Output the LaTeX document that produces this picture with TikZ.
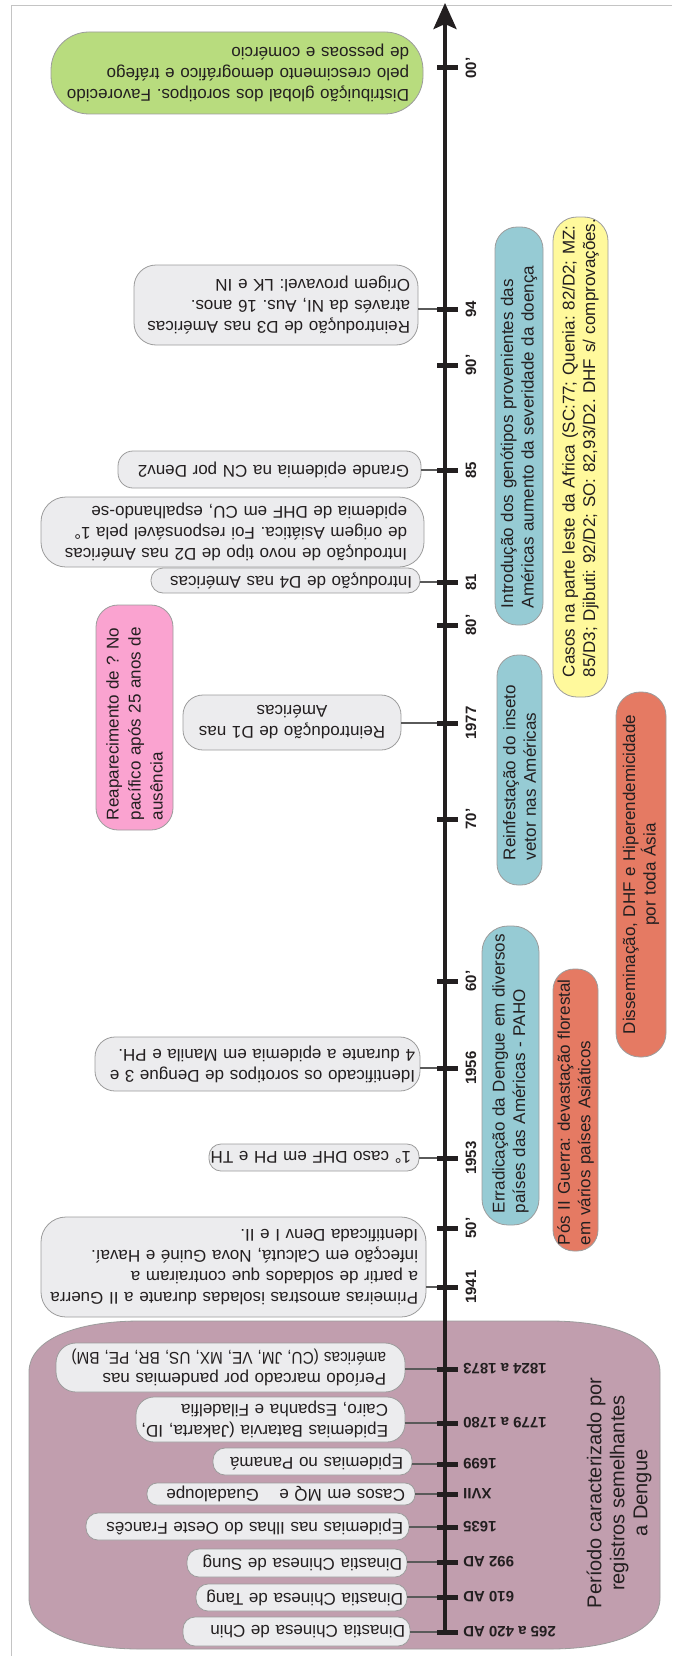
\documentclass[tikz,border=0pt]{standalone}
\usepackage{fontspec}
\usepackage{graphicx}
\setmainfont{Liberation Sans}
\usetikzlibrary{arrows.meta}
\frenchspacing
\definecolor{gfill}{HTML}{ECECEE}
\definecolor{gline}{HTML}{9C9C9C}
\definecolor{ink}{HTML}{231F20}
\definecolor{greenbox}{HTML}{B8DC7E}
\definecolor{bluebox}{HTML}{96CBD4}
\definecolor{redbox}{HTML}{E57A63}
\definecolor{yellowbox}{HTML}{FFF99C}
\definecolor{pinkbox}{HTML}{FAA3D0}
\definecolor{mauve}{HTML}{C19EAE}
\definecolor{frameline}{HTML}{C4C4C4}
\definecolor{connline}{HTML}{5A5A5A}
\newcommand\oneline[1]{\mbox{#1}}
\newcommand\narrowline[1]{\scalebox{0.9}[1]{#1}}
\tikzset{
 gbox/.style={draw=gline, fill=gfill, line width=0.8pt, rotate=180, align=left, inner ysep=0pt, font=\fontsize{17}{21}\selectfont\frenchspacing, text=ink},
 cbox/.style={draw=gline, line width=0.8pt, rotate=90, align=left, inner ysep=0pt, font=\fontsize{17}{20.5}\selectfont\frenchspacing, text=ink},
 conn/.style={draw=connline, line width=1.1pt},
 axisline/.style={draw=ink, line width=4pt, -{Stealth[length=26pt,width=23pt,inset=5pt]}},
 tickmark/.style={draw=ink, line width=5pt},
 uplabel/.style={rotate=90, font=\fontsize{15}{18}\selectfont\bfseries, text=ink, inner sep=0pt},
 lowlabel/.style={rotate=180, anchor=east, font=\fontsize{15}{18}\selectfont\bfseries, text=ink, inner sep=0pt},
}
\begin{document}
\begin{tikzpicture}[x=1pt,y=-1pt]
\useasboundingbox (0,0) rectangle (672,1656);
\fill[white] (0,0) rectangle (672,1656);
\draw[frameline, line width=1pt] (11,1656) -- (11,6) -- (672,6);

% background period region
\draw[draw=gline, fill=mauve, line width=0.8pt] (140,1321) -- (550,1321) .. controls (615,1321) and (660,1340) .. (660,1372) -- (660,1598) .. controls (660,1630) and (615,1649) .. (550,1649) -- (140,1649) .. controls (75,1649) and (29,1630) .. (29,1598) -- (29,1372) .. controls (29,1340) and (75,1321) .. (140,1321) -- cycle;
\node[rotate=90, align=center, font=\fontsize{20}{23}\selectfont, text=ink] (period) at (619,1493) {Período caracterizado por\\registros semelhantes\\a Dengue};

% tick coordinates
\coordinate (t00) at (445,68);
\coordinate (t94) at (445,309);
\coordinate (t90) at (445,365);
\coordinate (t85) at (445,470);
\coordinate (t81) at (445,582);
\coordinate (t80) at (445,625);
\coordinate (t1977) at (445,723);
\coordinate (t70) at (445,819);
\coordinate (t60) at (445,981);
\coordinate (t1956) at (445,1068);
\coordinate (t1953) at (445,1158);
\coordinate (t50) at (445,1228);
\coordinate (t1941) at (445,1287);
\coordinate (t1824) at (445,1369);
\coordinate (t1779) at (445,1423);
\coordinate (t1699) at (445,1464);
\coordinate (tXVII) at (445,1494);
\coordinate (t1635) at (445,1527);
\coordinate (t992) at (445,1562);
\coordinate (t610) at (445,1597);
\coordinate (t265) at (445,1632);
\coordinate (top) at (445,3);

% gray event boxes
\node[gbox, fill=greenbox, rounded corners=38pt, minimum width=372pt, minimum height=82pt, text width=344pt, inner xsep=14pt] (gG) at (237,73) {\oneline{Distribuição global dos sorotipos. Favorecido}\\\oneline{pelo crescimento demográfico e tráfego}\\\oneline{de pessoas e comércio}};
\node[gbox, rounded corners=22pt, minimum width=284pt, minimum height=80pt, text width=268pt, inner xsep=8pt] (g94) at (276,305) {\oneline{Reintrodução de D3 nas Américas}\\\oneline{através da NI, Aus. 16 anos.}\\\oneline{Origem provavel: LK e IN}};
\node[gbox, rounded corners=15pt, minimum width=303pt, minimum height=37pt, text width=279pt, inner xsep=12pt] (g85) at (269.5,469.5) {\oneline{Grande epidemia na CN por Denv2}};
\node[gbox, rounded corners=25pt, minimum width=383pt, minimum height=70pt, text width=349pt, inner xsep=17pt] (gD2) at (232.5,532) {\oneline{Introdução de novo tipo de D2 nas Américas}\\\oneline{de origem Asiática. Foi responsável pela 1°}\\\oneline{epidemia de DHF em CU, espalhando-se}};
\node[gbox, rounded corners=12pt, minimum width=269pt, minimum height=25pt, text width=253pt, inner xsep=8pt] (g81) at (285.5,580.5) {\oneline{Introdução de D4 nas Américas}};
\node[gbox, align=center, rounded corners=20pt, minimum width=218pt, minimum height=55pt, text width=200pt, inner xsep=9pt] (g1977) at (292,722.5) {Reintrodução de D1 nas\\Américas};
\node[gbox, rounded corners=20pt, minimum width=325pt, minimum height=54pt, text width=315pt, inner xsep=5pt] (g1956) at (257.5,1064) {\oneline{Identificado os sorotipos de Dengue 3 e}\\\oneline{4 durante a epidemia em Manila e PH.}};
\node[gbox, rounded corners=12pt, minimum width=210pt, minimum height=27pt, text width=194pt, inner xsep=8pt] (g1953) at (314,1157.5) {\oneline{1° caso DHF em PH e TH}};
\node[gbox, rounded corners=25pt, minimum width=385pt, minimum height=100pt, text width=369pt, inner xsep=8pt] (g1941) at (233.5,1267) {\oneline{Primeiras amostras isoladas durante a II Guerra}\\\oneline{a partir de soldados que contrairam a}\\\oneline{infecção em Calcutá, Nova Guiné e Havaí.}\\\oneline{Identificada Denv I e II.}};
\node[gbox, rounded corners=20pt, minimum width=349pt, minimum height=49pt, text width=311pt, inner xsep=19pt] (g1824) at (230.5,1367.5) {\oneline{Período marcado por pandemias nas}\\\narrowline{américas (CU, JM, VE, MX, US, BR, PE, BM)}};
\node[gbox, rounded corners=18pt, minimum width=269pt, minimum height=45pt, text width=235pt, inner xsep=17pt] (g1779) at (270.5,1419.5) {\oneline{Epidemias Batarvia (Jakarta, ID,}\\\oneline{Cairo, Espanha e Filadelfia}};
\node[gbox, rounded corners=12pt, minimum width=199pt, minimum height=27pt, text width=181pt, inner xsep=9pt] (g1699) at (312.5,1461.5) {\oneline{Epidemias no Panamá}};
\node[gbox, rounded corners=10pt, minimum width=268pt, minimum height=22pt, text width=248pt, inner xsep=10pt] (gXVII) at (281,1494) {\oneline{Casos em MQ e\hspace{1.2em}Guadaloupe}};
\node[gbox, rounded corners=12pt, minimum width=323pt, minimum height=27pt, text width=311pt, inner xsep=6pt] (g1635) at (247.5,1526.5) {\oneline{Epidemias nas Ilhas do Oeste Francês}};
\node[gbox, rounded corners=12pt, minimum width=220pt, minimum height=28pt, text width=210pt, inner xsep=5pt] (gSung) at (297,1563) {\oneline{Dinastia Chinesa de Sung}};
\node[gbox, rounded corners=12pt, minimum width=211pt, minimum height=27pt, text width=203pt, inner xsep=4pt] (gTang) at (301.5,1597.5) {\oneline{Dinastia Chinesa de Tang}};
\node[gbox, rounded corners=12pt, minimum width=227pt, minimum height=29pt, text width=217pt, inner xsep=5pt] (gChin) at (296.5,1631.5) {\oneline{Dinastia Chinesa de Chin}};

% coloured period boxes
\node[cbox, fill=bluebox, rounded corners=22pt, minimum width=398pt, minimum height=48pt, text width=364pt, inner xsep=17pt] (b90s) at (519,426) {\oneline{Introdução dos genótipos provenientes das}\\\oneline{Américas aumento da severidade da doença}};
\node[cbox, fill=yellowbox, rounded corners=24pt, minimum width=480pt, minimum height=55pt, text width=440pt, inner xsep=20pt] (yAfr) at (580.5,457) {\oneline{Casos na parte leste da Africa (SC:77; Quenia: 82/D2; MZ:}\\\oneline{85/D3; Djibuti: 92/D2; SO: 82,93/D2. DHF s/ comprovações.}};
\node[cbox, fill=bluebox, rounded corners=21pt, minimum width=230pt, minimum height=45pt, text width=180pt, inner xsep=25pt] (b70s) at (519.5,770) {\oneline{Reinfestação do inseto}\\\oneline{vetor nas Américas}};
\node[cbox, fill=redbox, align=center, rounded corners=24pt, minimum width=365pt, minimum height=50pt, text width=345pt, inner xsep=10pt] (rAsia) at (641,874.5) {Disseminação, DHF e Hiperendemicidade\\por toda Ásia};
\node[cbox, fill=bluebox, rounded corners=26pt, minimum width=299pt, minimum height=57pt, text width=275pt, inner xsep=12pt] (b50s) at (510.5,1075.5) {\oneline{Erradicação da Dengue em diversos}\\\oneline{países das Américas - PAHO}};
\node[cbox, fill=redbox, rounded corners=21pt, minimum width=282pt, minimum height=45pt, text width=270pt, inner xsep=6pt] (rWar) at (575.5,1110) {\oneline{Pós II Guerra: devastação florestal}\\\oneline{em vários países Asiáticos}};
\node[cbox, fill=pinkbox, font=\fontsize{17}{22}\selectfont\frenchspacing, rounded corners=22pt, minimum width=225pt, minimum height=77pt, text width=205pt, inner xsep=10pt] (pPac) at (134.5,717.5) {\oneline{Reaparecimento de ? No}\\\oneline{pacífico após 25 anos de}\\\oneline{ausência}};

% connectors
\draw[conn] (g94.west |- t94) -- (t94);
\draw[conn] (g85.west |- t85) -- (t85);
\draw[conn] (g81.west |- t81) -- (t81);
\draw[conn] (g1977.west |- t1977) -- (t1977);
\draw[conn] (g1956.west |- t1956) -- (t1956);
\draw[conn] (g1953.west |- t1953) -- (t1953);
\draw[conn] (g1941.west |- t1941) -- (t1941);
\draw[conn] (g1824.west |- t1824) -- (t1824);
\draw[conn] (g1779.west |- t1779) -- (t1779);
\draw[conn] (g1699.west |- t1699) -- (t1699);
\draw[conn] (gXVII.west |- tXVII) -- (tXVII);
\draw[conn] (g1635.west |- t1635) -- (t1635);
\draw[conn] (gSung.west |- t992) -- (t992);
\draw[conn] (gTang.west |- t610) -- (t610);
\draw[conn] (gChin.west |- t265) -- (t265);

% axis and ticks
\draw[axisline] ([yshift=-2pt]t265) -- (top);
\foreach \n in {00,94,90,85,81,80,1977,70,60,1956,1953,50,1941,1824,1779,1699,XVII,1635,992,610,265}
  \draw[tickmark] ([xshift=-8pt]t\n) -- ([xshift=13pt]t\n);

% axis labels
\node[uplabel] (l00) at (471,68) {00’};
\node[uplabel] (l94) at (471,309) {94};
\node[uplabel] (l90) at (471,365) {90’};
\node[uplabel] (l85) at (471,470) {85};
\node[uplabel] (l81) at (471,582) {81};
\node[uplabel] (l80) at (471,625) {80’};
\node[uplabel] (l1977) at (471,723) {1977};
\node[uplabel] (l70) at (471,819) {70’};
\node[uplabel] (l60) at (471,981) {60’};
\node[uplabel] (l1956) at (471,1068) {1956};
\node[uplabel] (l1953) at (471,1158) {1953};
\node[uplabel] (l50) at (471,1228) {50’};
\node[uplabel] (l1941) at (471,1287) {1941};
\node[lowlabel] (l1824) at (463,1369) {1824 a 1873};
\node[lowlabel] (l1779) at (463,1423) {1779 a 1780};
\node[lowlabel] (l1699) at (463,1464) {1699};
\node[lowlabel] (lXVII) at (463,1494) {XVII};
\node[lowlabel] (l1635) at (463,1527) {1635};
\node[lowlabel] (l992) at (463,1562) {992 AD};
\node[lowlabel] (l610) at (463,1597) {610 AD};
\node[lowlabel] (l265) at (463,1632) {265 a 420 AD};
\end{tikzpicture}
\end{document}
